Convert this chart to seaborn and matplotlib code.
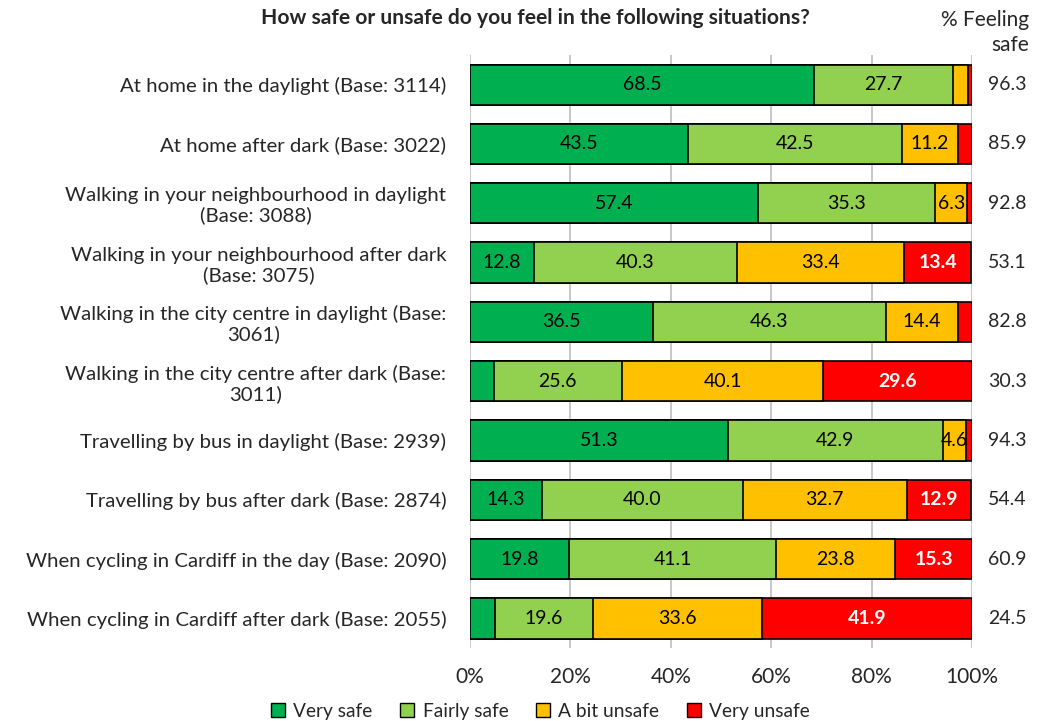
import numpy as np
import pandas as pd
import seaborn as sns
import matplotlib.pyplot as plt
from matplotlib.lines import Line2D

# Data
situations = [
    'At home in the daylight (Base: 3114)',
    'At home after dark (Base: 3022)',
    'Walking in your neighbourhood in daylight\n(Base: 3088)',
    'Walking in your neighbourhood after dark\n(Base: 3075)',
    'Walking in the city centre in daylight (Base:\n3061)',
    'Walking in the city centre after dark (Base:\n3011)',
    'Travelling by bus in daylight (Base: 2939)',
    'Travelling by bus after dark (Base: 2874)',
    'When cycling in Cardiff in the day (Base: 2090)',
    'When cycling in Cardiff after dark (Base: 2055)',
]
very_safe = [68.5, 43.5, 57.4, 12.8, 36.5, 4.7, 51.3, 14.3, 19.8, 4.9]
fairly_safe = [27.7, 42.5, 35.3, 40.3, 46.3, 25.6, 42.9, 40.0, 41.1, 19.6]
bit_unsafe = [3.0, 11.2, 6.3, 33.4, 14.4, 40.1, 4.6, 32.7, 23.8, 33.6]
very_unsafe = [0.8, 2.8, 1.0, 13.4, 2.8, 29.6, 1.2, 12.9, 15.3, 41.9]
feeling_safe = [96.3, 85.9, 92.8, 53.1, 82.8, 30.3, 94.3, 54.4, 60.9, 24.5]

series = ['Very safe', 'Fairly safe', 'A bit unsafe', 'Very unsafe']
colors = ['#00B050', '#92D050', '#FFC000', '#FF0000']

df = pd.DataFrame({'situation': situations,
                   'Very safe': very_safe,
                   'Fairly safe': fairly_safe,
                   'A bit unsafe': bit_unsafe,
                   'Very unsafe': very_unsafe})
cum = df[series].cumsum(axis=1)

sns.set_theme(style='white')
plt.rcParams['font.family'] = ['Lato', 'DejaVu Sans']

fig = plt.figure(figsize=(10.51, 7.21), dpi=100)
ax = fig.add_axes([0.4472, 0.1012, 0.4776, 0.8225])

# stacked bars: draw cumulative totals from the right-most series back
for s, c in reversed(list(zip(series, colors))):
    sns.barplot(x=cum[s], y=df['situation'], orient='h', color=c,
                edgecolor='black', linewidth=1.2, width=0.68, ax=ax,
                saturation=1, zorder=3)

# segment labels
for i in range(len(df)):
    left = 0
    for s in series:
        v = df.loc[i, s]
        show = v >= 4.5 and not (s == 'Very safe' and v < 5)
        if show:
            if s == 'Very unsafe':
                ax.text(left + v / 2, i, f'{v:.1f}', ha='center', va='center',
                        color='white', fontsize=14, fontweight='bold', zorder=5)
            else:
                ax.text(left + v / 2, i, f'{v:.1f}', ha='center', va='center',
                        color='black', fontsize=14, zorder=5)
        left += v
    ax.text(1.07, i, f'{feeling_safe[i]:.1f}', transform=ax.get_yaxis_transform(),
            ha='center', va='center', fontsize=14)

ax.set_xlim(0, 100)
ax.set_ylim(9.5, -0.5)
ax.set_xticks(np.arange(0, 101, 20))
ax.set_xticklabels([f'{t}%' for t in range(0, 101, 20)], fontsize=15)
ax.tick_params(axis='x', length=0, pad=14)
ax.tick_params(axis='y', length=0, pad=17)
for lab in ax.get_yticklabels():
    lab.set_fontsize(14.7)
    lab.set_horizontalalignment('right')
    lab.set_multialignment('center')
    lab.set_linespacing(1.15)
ax.set_xlabel('')
ax.set_ylabel('')
ax.xaxis.grid(True, color='#BFBFBF', linewidth=1.2, zorder=0)
ax.set_axisbelow(True)
for sp in ax.spines.values():
    sp.set_visible(False)

fig.text(0.509, 0.975, 'How safe or unsafe do you feel in the following situations?',
         ha='center', va='center', fontsize=15.1, fontweight='bold')
fig.text(0.979, 0.955, '% Feeling\nsafe', ha='right', va='center', fontsize=15,
         linespacing=1.3)

handles = [Line2D([0], [0], marker='s', linestyle='', markerfacecolor=c,
                  markeredgecolor='black', markersize=10) for c in colors]
fig.legend(handles, series, loc='lower center', bbox_to_anchor=(0.513, -0.022),
           ncol=4, frameon=False, fontsize=13.8, handletextpad=0.3,
           columnspacing=1.3, handlelength=1.0)

fig.savefig('out.png', dpi=100)
